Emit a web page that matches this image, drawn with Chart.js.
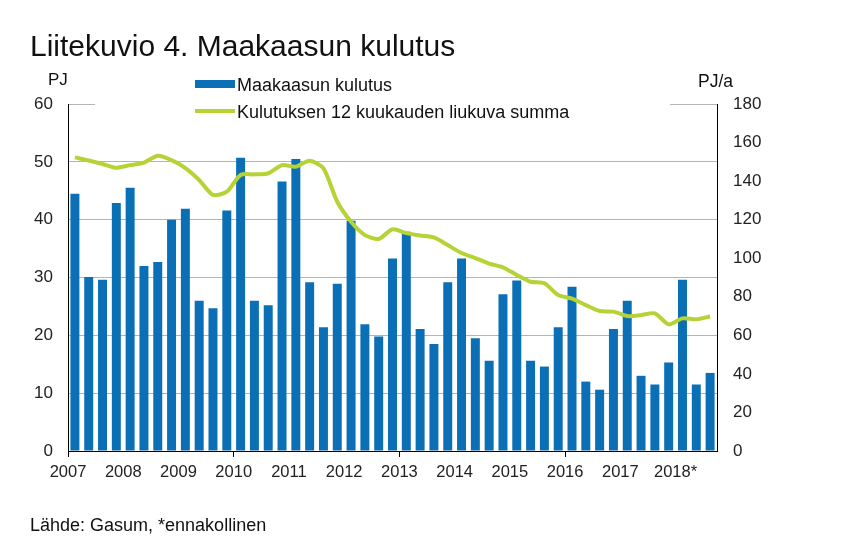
<!DOCTYPE html>
<html>
<head>
<meta charset="utf-8">
<script src="https://cdn.jsdelivr.net/npm/chart.js@4/dist/chart.umd.min.js"></script>
<style>
  body { margin: 0; background: #fff; font-family: "Liberation Sans", Arial, sans-serif; color: #111; }
  #wrap { position: relative; width: 866px; height: 539px; }
  #wrap canvas { position: absolute; left: 0; top: 0; }
  .txt { position: absolute; white-space: nowrap; line-height: 1; }
  #legend { position: absolute; left: 95px; top: 70px; width: 575px; height: 52px; background: #fff; }
  .item { position: absolute; left: 100px; font-size: 18px; line-height: 1; white-space: nowrap; }
  .sym { position: absolute; left: 0; }
</style>
</head>
<body>
<div id="wrap">
  <canvas id="gasChart"></canvas>
  <div class="txt" style="left:30px;top:31px;font-size:30px;">Liitekuvio 4. Maakaasun kulutus</div>
  <div class="txt" style="left:48px;top:71px;font-size:17px;">PJ</div>
  <div class="txt" style="left:698px;top:73px;font-size:17.5px;">PJ/a</div>
  <div id="legend"></div>
  <div class="txt" style="left:30px;top:516px;font-size:18px;">Lähde: Gasum, *ennakollinen</div>
</div>
<script>
  const years = ["2007", "2008", "2009", "2010", "2011", "2012", "2013", "2014", "2015", "2016", "2017", "2018*"];
  const quarters = years.flatMap(y => ["Q1", "Q2", "Q3", "Q4"].map(q => y.replace("*", "") + " " + q)).slice(0, 47);

  const seriesNames = ["Maakaasun kulutus", "Kulutuksen 12 kuukauden liukuva summa"];

  // neljännesvuosikulutus, PJ
  const consumption = [
    44.5, 30.1, 29.6, 42.9,
    45.5, 32.0, 32.7, 40.0,
    41.9, 26.0, 24.7, 41.6,
    50.7, 26.0, 25.2, 46.6,
    50.5, 29.2, 21.4, 28.9,
    39.8, 21.9, 19.8, 33.3,
    37.9, 21.1, 18.5, 29.2,
    33.3, 19.5, 15.6, 27.1,
    29.5, 15.6, 14.6, 21.4,
    28.4, 12.0, 10.6, 21.1,
    26.0, 13.0, 11.5, 15.3,
    29.6, 11.5, 13.5
  ];

  // 12 kuukauden liukuva summa, PJ/a
  const rolling12 = [
    152.3, 150.7, 148.9, 146.9,
    148.3, 149.6, 153.2, 150.9,
    146.8, 140.6, 132.8, 134.5,
    143.2, 143.5, 144.0, 148.3,
    147.5, 150.6, 146.6, 129.3,
    118.9, 112.0, 110.0, 115.0,
    113.0, 111.8, 110.8, 106.8,
    102.7, 100.1, 97.2, 95.3,
    91.3, 87.8, 87.0, 80.9,
    79.1, 75.7, 72.6, 72.3,
    70.0, 70.5, 71.4, 65.7,
    68.8, 68.3, 69.8
  ];

  const leftTicks = [0, 10, 20, 30, 40, 50, 60];
  const rightTicks = [0, 20, 40, 60, 80, 100, 120, 140, 160, 180];

  const blue = "#0b6fb5";
  const green = "#b5d334";

  const barData = consumption.map((v, i) => ({ x: i + 0.5, y: v }));
  const lineData = rolling12.map((v, i) => ({ x: i + 0.5, y: v }));

  // legend as html, white box hides the top grid line like in the original
  const legend = document.getElementById("legend");
  legend.innerHTML =
    '<div class="item" style="top:6px"><span class="sym" style="left:0;top:4px;width:40px;height:8px;background:' + blue + '"></span>' +
    '<span style="position:absolute;left:42px;top:0">' + seriesNames[0] + '</span></div>' +
    '<div class="item" style="top:33px"><span class="sym" style="left:0;top:6px;width:40px;height:4px;background:' + green + '"></span>' +
    '<span style="position:absolute;left:42px;top:0">' + seriesNames[1] + '</span></div>';

  const ctx = document.getElementById("gasChart");

  new Chart(ctx, {
    type: "bar",
    data: {
      labels: quarters,
      datasets: [
        {
          type: "line",
          label: seriesNames[1],
          data: lineData,
          yAxisID: "y2",
          borderColor: green,
          borderWidth: 4,
          pointRadius: 0,
          tension: 0.25,
          order: 0,
        },
        {
          label: seriesNames[0],
          data: barData,
          yAxisID: "y",
          backgroundColor: blue,
          barPercentage: 0.65,
          categoryPercentage: 1,
          order: 1,
        },
      ],
    },
    options: {
      responsive: true,
      maintainAspectRatio: false,
      animation: false,
      layout: { padding: { left: 0, right: 0, top: 104, bottom: 48 } },
      plugins: {
        legend: { display: false },
        tooltip: { enabled: false },
      },
      scales: {
        x: {
          type: "linear",
          offset: false,
          min: 0,
          max: quarters.length,
          afterBuildTicks: (s) => {
            s.ticks = years.map((y, i) => ({ value: i * 4 }));
          },
          afterFit: (s) => {
            s.height = 40;
            s.paddingLeft = 0;
            s.paddingRight = 0;
          },
          ticks: {
            autoSkip: false,
            maxRotation: 0,
            padding: 6,
            color: "#222",
            font: { family: "Liberation Sans", size: 16.5 },
            callback: (v) => years[v / 4],
          },
          grid: {
            offset: false,
            drawOnChartArea: false,
            drawTicks: true,
            tickLength: 6,
            color: (c) => (c.tick && c.tick.value % 12 === 0 ? "#000" : "rgba(0,0,0,0)"),
          },
          border: { display: true, color: "#000", width: 1 },
        },
        y: {
          position: "left",
          min: 0,
          max: 60,
          afterBuildTicks: (s) => {
            s.ticks = leftTicks.map(v => ({ value: v }));
          },
          afterFit: (s) => {
            s.width = 68;
            s.paddingTop = 0;
            s.paddingBottom = 0;
          },
          ticks: {
            padding: 15,
            color: "#222",
            font: { family: "Liberation Sans", size: 17 },
          },
          grid: { color: "#b4b4b4", drawTicks: false },
          border: { display: true, color: "#000", width: 1 },
        },
        y2: {
          position: "right",
          min: 0,
          max: 180,
          afterBuildTicks: (s) => {
            s.ticks = rightTicks.map(v => ({ value: v }));
          },
          afterFit: (s) => {
            s.width = 149;
            s.paddingTop = 0;
            s.paddingBottom = 0;
          },
          ticks: {
            padding: 16,
            color: "#222",
            font: { family: "Liberation Sans", size: 17 },
          },
          grid: { display: false, drawTicks: false },
          border: { display: true, color: "#000", width: 1 },
        },
      },
    },
  });
</script>
</body>
</html>
